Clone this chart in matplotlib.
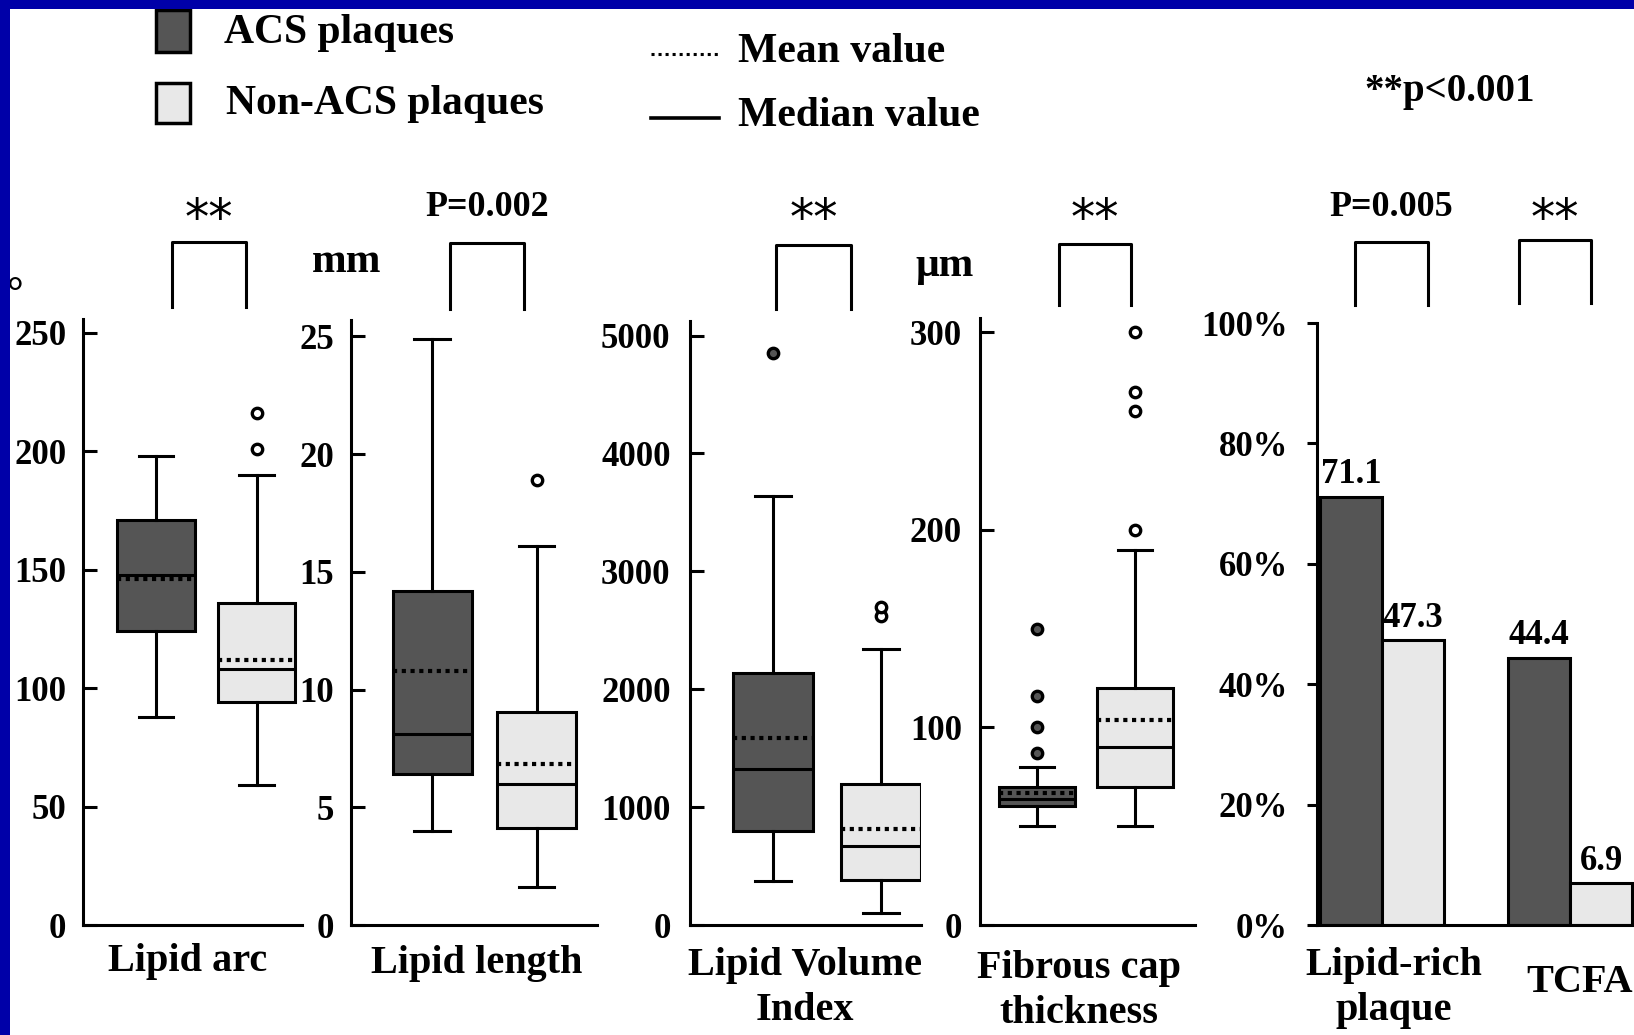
import matplotlib.pyplot as plt
from matplotlib.patches import Rectangle
from matplotlib.lines import Line2D

W, H = 1634, 1035

plt.rcParams['font.family'] = ['Liberation Serif', 'DejaVu Serif']
plt.rcParams['font.weight'] = 'bold'

# ---- data ----
groups = ['ACS plaques', 'Non-ACS plaques']
box_titles = ['Lipid arc', 'Lipid length', 'Lipid Volume\nIndex', 'Fibrous cap\nthickness']
box_units = ['°', 'mm', '', 'μm']
box_pvals = ['**', 'P=0.002', '**', '**']

lipid_arc = [
    dict(whislo=88, q1=124, med=148, q3=171, whishi=198, mean=146, fliers=[]),
    dict(whislo=59, q1=94, med=108, q3=136, whishi=190, mean=112, fliers=[201, 216]),
]
lipid_length = [
    dict(whislo=4.0, q1=6.4, med=8.1, q3=14.2, whishi=24.9, mean=10.8, fliers=[]),
    dict(whislo=1.6, q1=4.1, med=6.0, q3=9.05, whishi=16.1, mean=6.85, fliers=[18.9]),
]
lipid_volume = [
    dict(whislo=370, q1=800, med=1325, q3=2135, whishi=3640, mean=1585, fliers=[4850]),
    dict(whislo=100, q1=380, med=670, q3=1200, whishi=2345, mean=815, fliers=[2625, 2700]),
]
cap_thickness = [
    dict(whislo=50, q1=60, med=64, q3=70, whishi=80, mean=67, fliers=[87, 100, 116, 150]),
    dict(whislo=50, q1=70, med=90, q3=120, whishi=190, mean=104, fliers=[200, 260, 270, 300]),
]
box_data = [lipid_arc, lipid_length, lipid_volume, cap_thickness]
box_ticks = [
    [0, 50, 100, 150, 200, 250],
    [0, 5, 10, 15, 20, 25],
    [0, 1000, 2000, 3000, 4000, 5000],
    [0, 100, 200, 300],
]

bar_cats = ['Lipid-rich\nplaque', 'TCFA']
acs_pct = [71.1, 44.4]
non_acs_pct = [47.3, 6.9]
bar_pvals = ['P=0.005', '**']
pct_ticks = [0, 20, 40, 60, 80, 100]

DARK = '#555555'
LIGHT = '#e8e8e8'
LW = 2.2


def px_axes(fig, l, t, r, b):
    return fig.add_axes([l / W, 1 - b / H, (r - l) / W, (b - t) / H])


def fx(x):
    return x / W


def fy(y):
    return 1 - y / H


def bracket(fig, x1, x2, top, bot, label):
    fig.add_artist(Line2D([fx(x1), fx(x1), fx(x2), fx(x2)],
                          [fy(bot), fy(top), fy(top), fy(bot)],
                          transform=fig.transFigure, color='black', lw=LW))
    if label == '**':
        fig.text(fx((x1 + x2) / 2), fy(220), label, ha='center', va='center',
                 fontsize=35, family=['DejaVu Sans'], fontweight='normal')
    else:
        fig.text(fx((x1 + x2) / 2), fy(207), label, ha='center', va='center', fontsize=26)


fig = plt.figure(figsize=(W / 100, H / 100), dpi=100)
fig.patch.set_facecolor('white')

# axes geometry in pixels: left, spine top, right, baseline
box_geom = [(83, 319, 302, 925), (351, 320, 597, 925), (690, 321, 921, 925), (980, 318, 1195, 925)]
box_xlim = [(0.275, 2.45), (0.22, 2.58), (0.236, 2.37), (0.423, 2.61)]
box_ylim = [255.9, 25.7, 5124, 307.3]
box_widths = [0.765, 0.76, 0.74, 0.77]
title_pos = [(188, 961), (477, 964), (805, 988), (1079, 991)]
pad_pts = [12, 12, 14, 13]
brackets = [(172, 246, 242, 307), (450, 524, 243, 309), (776, 851, 245, 309), (1059, 1131, 244, 305)]

for i, data in enumerate(box_data):
    l, t, r, b = box_geom[i]
    ax = px_axes(fig, l, t, r, b)
    w = box_widths[i]
    res = ax.bxp(data, positions=[1, 2], widths=w, capwidths=w * 0.45,
                 patch_artist=True, showmeans=True, meanline=True,
                 boxprops=dict(linewidth=LW, edgecolor='black'),
                 whiskerprops=dict(linewidth=LW, color='black'),
                 capprops=dict(linewidth=LW, color='black'),
                 medianprops=dict(linewidth=LW, color='black'),
                 meanprops=dict(linewidth=3.0, color='black', linestyle=(0, (1, 1.1))),
                 flierprops=dict(marker='o', markersize=7.5, markeredgewidth=2.4,
                                 markeredgecolor='black', markerfacecolor='white'))
    res['boxes'][0].set_facecolor(DARK)
    res['boxes'][1].set_facecolor(LIGHT)
    if i >= 2:
        res['fliers'][0].set_markerfacecolor(DARK)
    ax.set_xlim(*box_xlim[i])
    ax.set_ylim(0, box_ylim[i])
    ax.set_yticks(box_ticks[i])
    ax.set_xticks([])
    ax.spines[['top', 'right']].set_visible(False)
    ax.spines[['left', 'bottom']].set_linewidth(LW)
    ax.tick_params(axis='y', direction='in', length=10, width=LW, labelsize=25, pad=pad_pts[i])
    fig.text(fx(title_pos[i][0]), fy(title_pos[i][1]), box_titles[i], ha='center', va='center',
             fontsize=29, linespacing=1.3)
    x1, x2, top, bot = brackets[i]
    bracket(fig, x1, x2, top, bot, box_pvals[i])

# units
fig.text(fx(15), fy(295), box_units[0], ha='center', va='center', fontsize=30)
fig.text(fx(347), fy(262), box_units[1], ha='center', va='center', fontsize=30)
fig.text(fx(945), fy(266), box_units[3], ha='center', va='center', fontsize=30)

# bar panel
ax = px_axes(fig, 1317, 323, 1634, 925)
xs = range(len(bar_cats))
bw = 0.33
b1 = ax.bar([x - bw / 2 for x in xs], acs_pct, width=bw, color=DARK, edgecolor='black', linewidth=LW)
b2 = ax.bar([x + bw / 2 for x in xs], non_acs_pct, width=bw, color=LIGHT, edgecolor='black', linewidth=LW)
for bars, vals in ((b1, acs_pct), (b2, non_acs_pct)):
    for bar, v in zip(bars, vals):
        ax.annotate(f'{v}', (bar.get_x() + bar.get_width() / 2, v), xytext=(0, 4),
                    textcoords='offset points', ha='center', va='bottom', fontsize=25)
ax.set_xlim(-0.346, 1.34)
ax.set_ylim(0, 100)
ax.set_yticks(pct_ticks)
ax.set_yticklabels([f'{t}%' for t in pct_ticks])
ax.set_xticks([])
ax.spines[['top', 'right']].set_visible(False)
ax.spines[['left', 'bottom']].set_linewidth(LW)
ax.tick_params(axis='y', direction='out', length=7, width=LW, labelsize=25, pad=14)
fig.text(fx(1394), fy(988), bar_cats[0], ha='center', va='center', fontsize=29, linespacing=1.3)
fig.text(fx(1580), fy(982), bar_cats[1], ha='center', va='center', fontsize=29)
bracket(fig, 1355, 1428, 242, 305, bar_pvals[0])
bracket(fig, 1519, 1591, 240, 303, bar_pvals[1])

# legend
fig.add_artist(Rectangle((fx(156), fy(52)), (190 - 156) / W, (52 - 10) / H, transform=fig.transFigure,
                         facecolor=DARK, edgecolor='black', linewidth=2.5))
fig.add_artist(Rectangle((fx(156), fy(123)), (190 - 156) / W, (123 - 83) / H, transform=fig.transFigure,
                         facecolor=LIGHT, edgecolor='black', linewidth=2.5))
fig.text(fx(224), fy(33), groups[0], ha='left', va='center', fontsize=30)
fig.text(fx(226), fy(104), groups[1], ha='left', va='center', fontsize=30)
fig.add_artist(Line2D([fx(651), fx(719)], [fy(54), fy(54)], transform=fig.transFigure,
                      color='black', lw=2.2, linestyle=(0, (1, 1.3))))
fig.add_artist(Line2D([fx(651), fx(719)], [fy(118), fy(118)], transform=fig.transFigure,
                      color='black', lw=2.6))
fig.text(fx(738), fy(52), 'Mean value', ha='left', va='center', fontsize=30)
fig.text(fx(738), fy(116), 'Median value', ha='left', va='center', fontsize=30)
fig.text(fx(1450), fy(92), '**p<0.001', ha='center', va='center', fontsize=28)

# blue frame
fig.add_artist(Rectangle((0, fy(9)), 1, 9 / H, transform=fig.transFigure,
                         facecolor='#0000a8', edgecolor='none', zorder=10))
fig.add_artist(Rectangle((0, 0), 10 / W, 1, transform=fig.transFigure,
                         facecolor='#0000a8', edgecolor='none', zorder=10))

fig.savefig('out.png', dpi=100)
